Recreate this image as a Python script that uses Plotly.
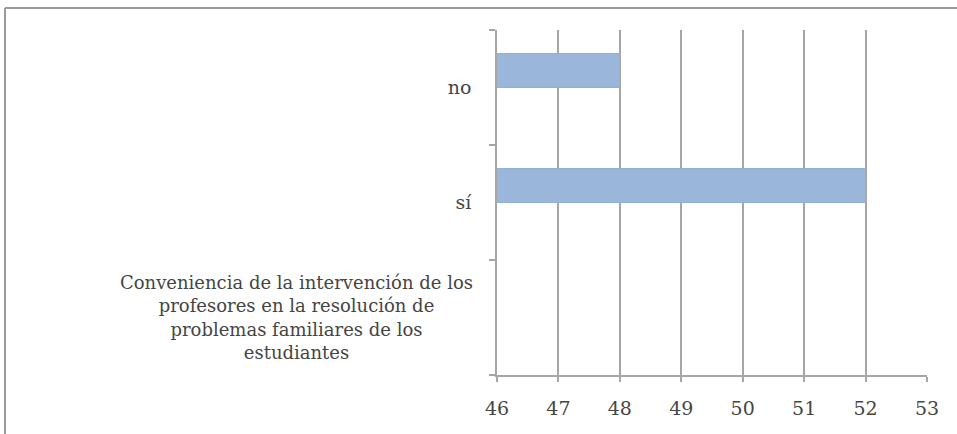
import plotly.graph_objects as go

# data, bottom to top as drawn on the category axis
categories = ["tema", "sí", "no"]
values = [None, 52, 48]
topic_label = ("Conveniencia de la intervención de los<br>profesores en la resolución de"
               "<br>problemas familiares de los<br>estudiantes")
x_ticks = [46, 47, 48, 49, 50, 51, 52, 53]

BAR = "#9AB6DA"
GRID = "#A6A6A6"
TXT = "#454545"
FONT = "DejaVu Serif"

W, H = 957, 434
L, R, T, B = 497, 30, 30, 59

fig = go.Figure()
fig.add_trace(go.Bar(
    y=categories, x=values, orientation="h",
    width=0.29, offset=0.0,
    marker=dict(color=BAR, line=dict(color="#93AFD5", width=1)),
    hoverinfo="x+y",
))

fig.update_layout(
    width=W, height=H,
    margin=dict(l=L, r=R, t=T, b=B),
    paper_bgcolor="white", plot_bgcolor="white",
    font=dict(family=FONT, size=19, color=TXT),
    showlegend=False,
    bargap=0,
)
fig.update_xaxes(
    range=[46, 53], tickvals=x_ticks, ticktext=[str(v) for v in x_ticks],
    showgrid=True, gridcolor=GRID, gridwidth=1.5,
    showline=True, linecolor=GRID, linewidth=1.5,
    ticks="outside", ticklen=5, tickcolor=GRID, tickwidth=1.5,
    ticklabelstandoff=10, zeroline=False,
)
fig.update_yaxes(
    categoryorder="array", categoryarray=categories,
    tickvals=categories, ticktext=["", "sí", "no"],
    tickson="boundaries",
    showgrid=False,
    showline=True, linecolor=GRID, linewidth=1.5,
    ticks="outside", ticklen=6, tickcolor=GRID, tickwidth=1.5,
    ticklabelstandoff=20,
)

# long category label, centred lines as in the original
fig.add_annotation(
    xref="paper", yref="y", x=0, y=categories[0],
    xanchor="right", yanchor="middle", xshift=-22,
    text=topic_label, showarrow=False, align="center",
    font=dict(family=FONT, size=18, color=TXT),
)

# chart frame: only top and left edges are visible in the crop
pw, ph = W - L - R, H - T - B
px_x = lambda p: (p - L) / pw
px_y = lambda p: (H - p - B) / ph
frame = dict(type="line", xref="paper", yref="paper", layer="below",
             line=dict(color="#9A9A9A", width=2))
fig.add_shape(x0=px_x(5), x1=px_x(970), y0=px_y(8), y1=px_y(8), **frame)
fig.add_shape(x0=px_x(5), x1=px_x(5), y0=px_y(8), y1=px_y(450), **frame)

fig.write_html("out.html", config={"displayModeBar": False},
               post_script="document.body.style.margin='0';")
